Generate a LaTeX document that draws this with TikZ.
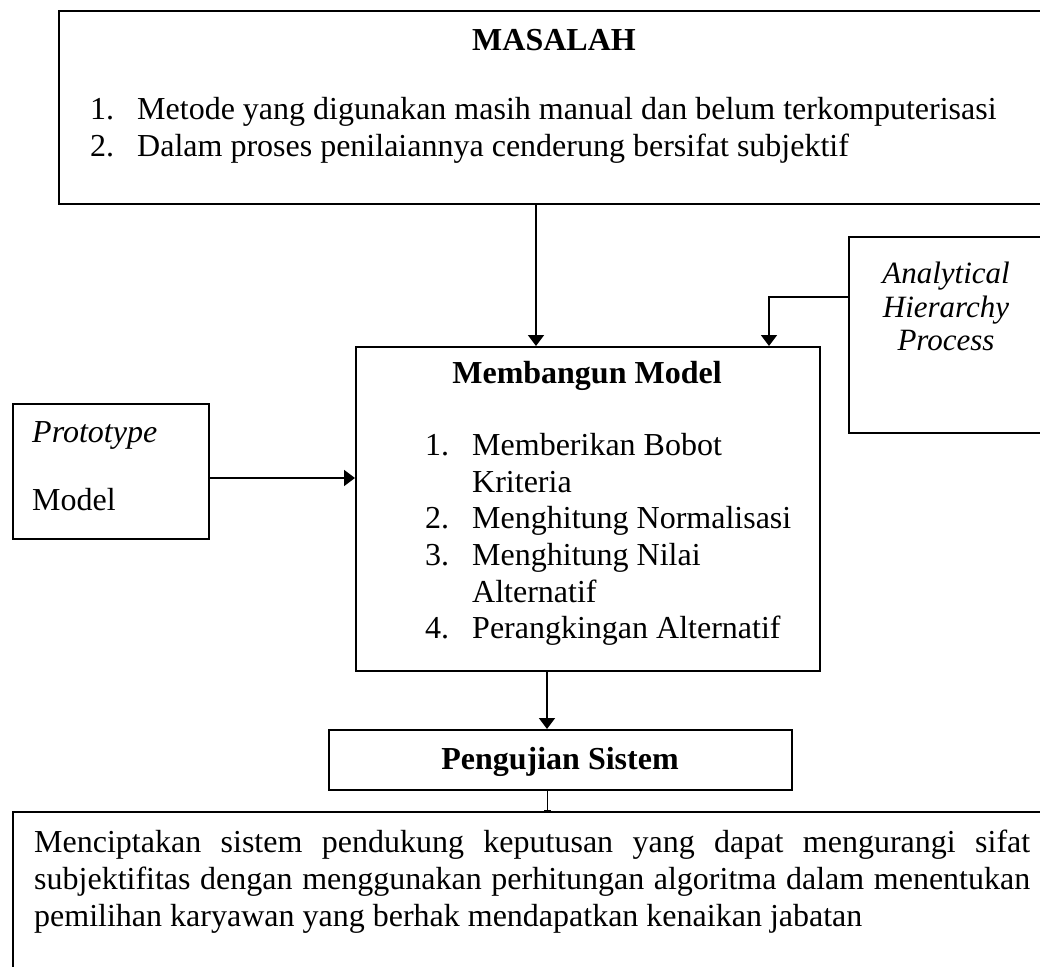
\documentclass[tikz,border=0pt]{standalone}
\usepackage{fontspec}
\setmainfont{Liberation Serif}
\usetikzlibrary{arrows.meta}

\begin{document}
\begin{tikzpicture}[x=1pt,y=-1pt,
  kotak/.style={draw,line width=1.6pt,inner sep=0pt,anchor=north west},
  panah/.style={line width=1.6pt,-{Triangle[length=11pt,width=16pt]}},
  teks/.style={anchor=base west,inner sep=0pt,font=\fontsize{32}{37}\selectfont},
  judul/.style={anchor=base,inner sep=0pt,font=\fontsize{32}{37}\selectfont\bfseries},
  miring/.style={anchor=base,inner sep=0pt,font=\fontsize{31}{34}\selectfont\itshape}]
\useasboundingbox (0,0) rectangle (1040,966);
% kotak-kotak
\node[kotak,minimum width=1000pt,minimum height=193pt] (masalah) at (58,10) {};
\node[kotak,minimum width=464pt,minimum height=324pt] (model) at (355,346) {};
\node[kotak,minimum width=196pt,minimum height=135pt] (proto) at (12,403) {};
\node[kotak,minimum width=220pt,minimum height=196pt] (ahp) at (848,236) {};
\node[kotak,minimum width=463pt,minimum height=60pt] (uji) at (328,729) {};
\node[kotak,minimum width=1060pt,minimum height=200pt] (hasil) at (12,811) {};
% titik bantu
\coordinate (xa) at (536,0);
\coordinate (xb) at (547,0);
\coordinate (xc) at (769,0);
\coordinate (ya) at (0,478);
\coordinate (ahpout) at (848,297);
% panah
\draw[panah] (masalah.south -| xa) -- (model.north -| xa);
\draw[panah] (ahpout) -| (model.north -| xc);
\draw[panah] (proto.east |- ya) -- (model.west |- ya);
\draw[panah] (model.south -| xb) -- (uji.north -| xb);
\draw[line width=0.6pt,-{Bar[width=7pt,line width=0.6pt]}] (uji.south -| xb) -- (hasil.north -| xb);
% teks masalah
\node[judul] (tmasalah) at (554,50) {MASALAH};
\node[teks] (m1n) at (90,119) {1.};
\node[teks] (m1) at (137,119) {Metode yang digunakan masih manual dan belum terkomputerisasi};
\node[teks] (m2n) at (90,156) {2.};
\node[teks] (m2) at (137,156) {Dalam proses penilaiannya cenderung bersifat subjektif};
% teks model
\node[judul] (tmodel) at (587,383) {Membangun Model};
\node[teks] (b1n) at (425,455) {1.};
\node[teks] (b1) at (472,455) {Memberikan Bobot};
\node[teks] (b1b) at (472,492) {Kriteria};
\node[teks] (b2n) at (425,528) {2.};
\node[teks] (b2) at (472,528) {Menghitung Normalisasi};
\node[teks] (b3n) at (425,565) {3.};
\node[teks] (b3) at (472,565) {Menghitung Nilai};
\node[teks] (b3b) at (472,602) {Alternatif};
\node[teks] (b4n) at (425,638) {4.};
\node[teks] (b4) at (472,638) {Perangkingan Alternatif};
% teks samping
\node[teks] (tproto) at (32,442) {\itshape Prototype};
\node[teks] (tmodel2) at (32,510) {Model};
\node[miring] (tahp1) at (946,283) {Analytical};
\node[miring] (tahp2) at (946,317) {Hierarchy};
\node[miring] (tahp3) at (946,350) {Process};
% teks bawah
\node[judul] (tuji) at (560,769) {Pengujian Sistem};
\node[anchor=base west,inner sep=0pt,text width=996pt,align=justify,
  font=\fontsize{32}{37}\selectfont] (thasil) at (34,852)
  {Menciptakan sistem pendukung keputusan yang dapat mengurangi sifat\linebreak
   subjektifitas dengan menggunakan perhitungan algoritma dalam menentukan\linebreak
   pemilihan karyawan yang berhak mendapatkan kenaikan jabatan\hfill\null};
\end{tikzpicture}
\end{document}
